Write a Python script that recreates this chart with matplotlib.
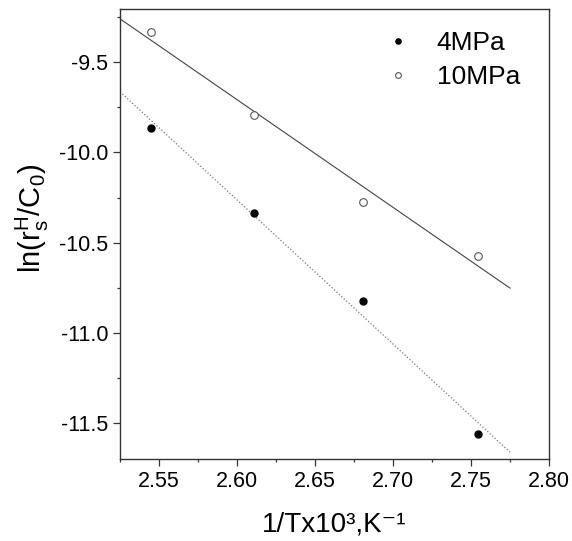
import numpy as np
import matplotlib
matplotlib.use("Agg")
import matplotlib.pyplot as plt
from matplotlib.ticker import MultipleLocator, FormatStrFormatter

plt.rcParams['font.family'] = ['Liberation Sans', 'DejaVu Sans']
plt.rcParams['mathtext.fontset'] = 'custom'
plt.rcParams['mathtext.rm'] = 'Liberation Sans'
plt.rcParams['mathtext.it'] = 'Liberation Sans'

# datos
inv_t = [2.5447, 2.6107, 2.6810, 2.7547]
ln_4mpa = [-9.862, -10.333, -10.822, -11.560]
ln_10mpa = [-9.334, -9.793, -10.272, -10.571]
fit_range = [2.525, 2.775]

fig = plt.figure(figsize=(5.72, 5.41), dpi=100)
ax = fig.add_axes([0.2098, 0.151, 0.75, 0.8318])

# rectas de ajuste
xf = np.array(fit_range)
p4 = np.polyfit(inv_t, ln_4mpa, 1)
p10 = np.polyfit(inv_t, ln_10mpa, 1)
ax.plot(xf, np.polyval(p10, xf), '-', color='#444444', lw=0.8)
ax.plot(xf, np.polyval(p4, xf), ':', color='#777777', lw=0.9)

ax.plot(inv_t, ln_4mpa, 'o', color='black', ms=5, ls='none', label='4MPa')
ax.plot(inv_t, ln_10mpa, 'o', mfc='white', mec='#555555', mew=0.8, ms=5.5,
        ls='none', label='10MPa')

ax.set_xlim(2.525, 2.80)
ax.set_ylim(-11.70, -9.207)
ax.xaxis.set_major_locator(MultipleLocator(0.05))
ax.xaxis.set_minor_locator(MultipleLocator(0.025))
ax.yaxis.set_major_locator(MultipleLocator(0.5))
ax.yaxis.set_minor_locator(MultipleLocator(0.25))
ax.xaxis.set_major_formatter(FormatStrFormatter('%.2f'))
ax.yaxis.set_major_formatter(FormatStrFormatter('%.1f'))
ax.tick_params(which='major', direction='out', length=5, width=0.9,
               color='#333333', labelsize=15.5, pad=3.5)
ax.tick_params(which='minor', direction='out', length=2.5, width=0.9,
               color='#333333')

for s in ax.spines.values():
    s.set_color('#333333')
    s.set_linewidth(1.0)

ax.set_xlabel('1/Tx10\u00b3,K\u207b\u00b9', fontsize=20, labelpad=14)
ax.set_ylabel(r'ln(r$^{\rm H}_{\rm s}$/C$_{0}$)', fontsize=21)
ax.yaxis.set_label_coords(-0.16, 0.536)

leg = ax.legend(loc='upper right', frameon=False, fontsize=19,
                markerscale=0.75, handlelength=1.0, handletextpad=0.96,
                labelspacing=0.4, bbox_to_anchor=(0.988, 1.005))

fig.savefig('out.png', dpi=100)
